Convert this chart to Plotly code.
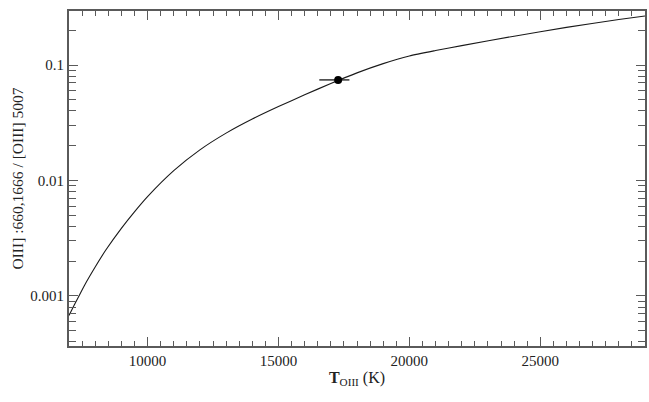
import plotly.graph_objects as go

# Curve: temperature (K) vs line ratio
temps = [7000, 7200, 7600, 8000, 8400, 9000, 9500, 10000, 11000, 12000, 13000,
         14000, 15000, 16000, 17000, 18000, 19000, 20000, 21000, 22000, 24000,
         26000, 28000, 29000]
ratio = [0.000676, 0.000832, 0.001245, 0.001782, 0.002483, 0.003846, 0.005346,
         0.007244, 0.01216, 0.01841, 0.0257, 0.03404, 0.04365, 0.05521, 0.06918,
         0.08551, 0.1028, 0.1197, 0.1334, 0.1472, 0.1778, 0.2118, 0.2483, 0.2661]

# Measured point
obs_t = [17280]
obs_ratio = [0.0743]
obs_err_plus = [430]
obs_err_minus = [720]

x_ticks = [10000, 15000, 20000, 25000]
x_ticktext = ["10000", "15000", "20000", "25000"]
y_ticks = [0.001, 0.01, 0.1]
y_ticktext = ["0.001", "0.01", "0.1"]

font = "Liberation Serif, Times New Roman, serif"
frame = "#5a5a5a"

fig = go.Figure()
fig.add_trace(go.Scatter(x=temps, y=ratio, mode="lines",
                         line=dict(color="#1a1a1a", width=1.1, shape="spline",
                                   smoothing=0.6),
                         showlegend=False, hoverinfo="skip"))
fig.add_trace(go.Scatter(x=obs_t, y=obs_ratio, mode="markers",
                         marker=dict(color="black", size=8),
                         error_x=dict(type="data", symmetric=False,
                                      array=obs_err_plus, arrayminus=obs_err_minus,
                                      color="black", thickness=1.2, width=0),
                         showlegend=False))

fig.update_layout(
    width=649, height=402,
    margin=dict(l=69, r=2, t=11, b=56),
    paper_bgcolor="white", plot_bgcolor="white",
    font=dict(family=font, size=15, color="#222222"),
    xaxis=dict(range=[7000, 29000], tickvals=x_ticks, ticktext=x_ticktext,
               ticks="inside", ticklen=9,
               tickcolor=frame, tickwidth=1.3, showline=True, linecolor=frame,
               linewidth=1.8, mirror="ticks", showgrid=False, zeroline=False,
               tickfont=dict(size=15),
               minor=dict(dtick=500, ticks="inside", ticklen=5, tickcolor=frame,
                          showgrid=False),
               title=dict(text="<b>T</b><sub>OIII</sub> (K)", font=dict(size=16),
                          standoff=4)),
    yaxis=dict(type="log", range=[-3.434, -0.532], tickvals=y_ticks,
               ticktext=y_ticktext, ticks="inside", ticklen=9, tickcolor=frame,
               tickwidth=1.3, showline=True, linecolor=frame, linewidth=1.8,
               mirror="ticks", showgrid=False, zeroline=False,
               tickfont=dict(size=15),
               minor=dict(dtick="D1", ticks="inside", ticklen=7, tickcolor=frame,
                          showgrid=False),
               title=dict(text="OIII] :660,1666 / [OIII] 5007", font=dict(size=15.5),
                          standoff=3)),
)

fig.write_html("out.html", config={"displayModeBar": False},
               post_script="document.body.style.margin='0';document.body.style.overflow='hidden';")
